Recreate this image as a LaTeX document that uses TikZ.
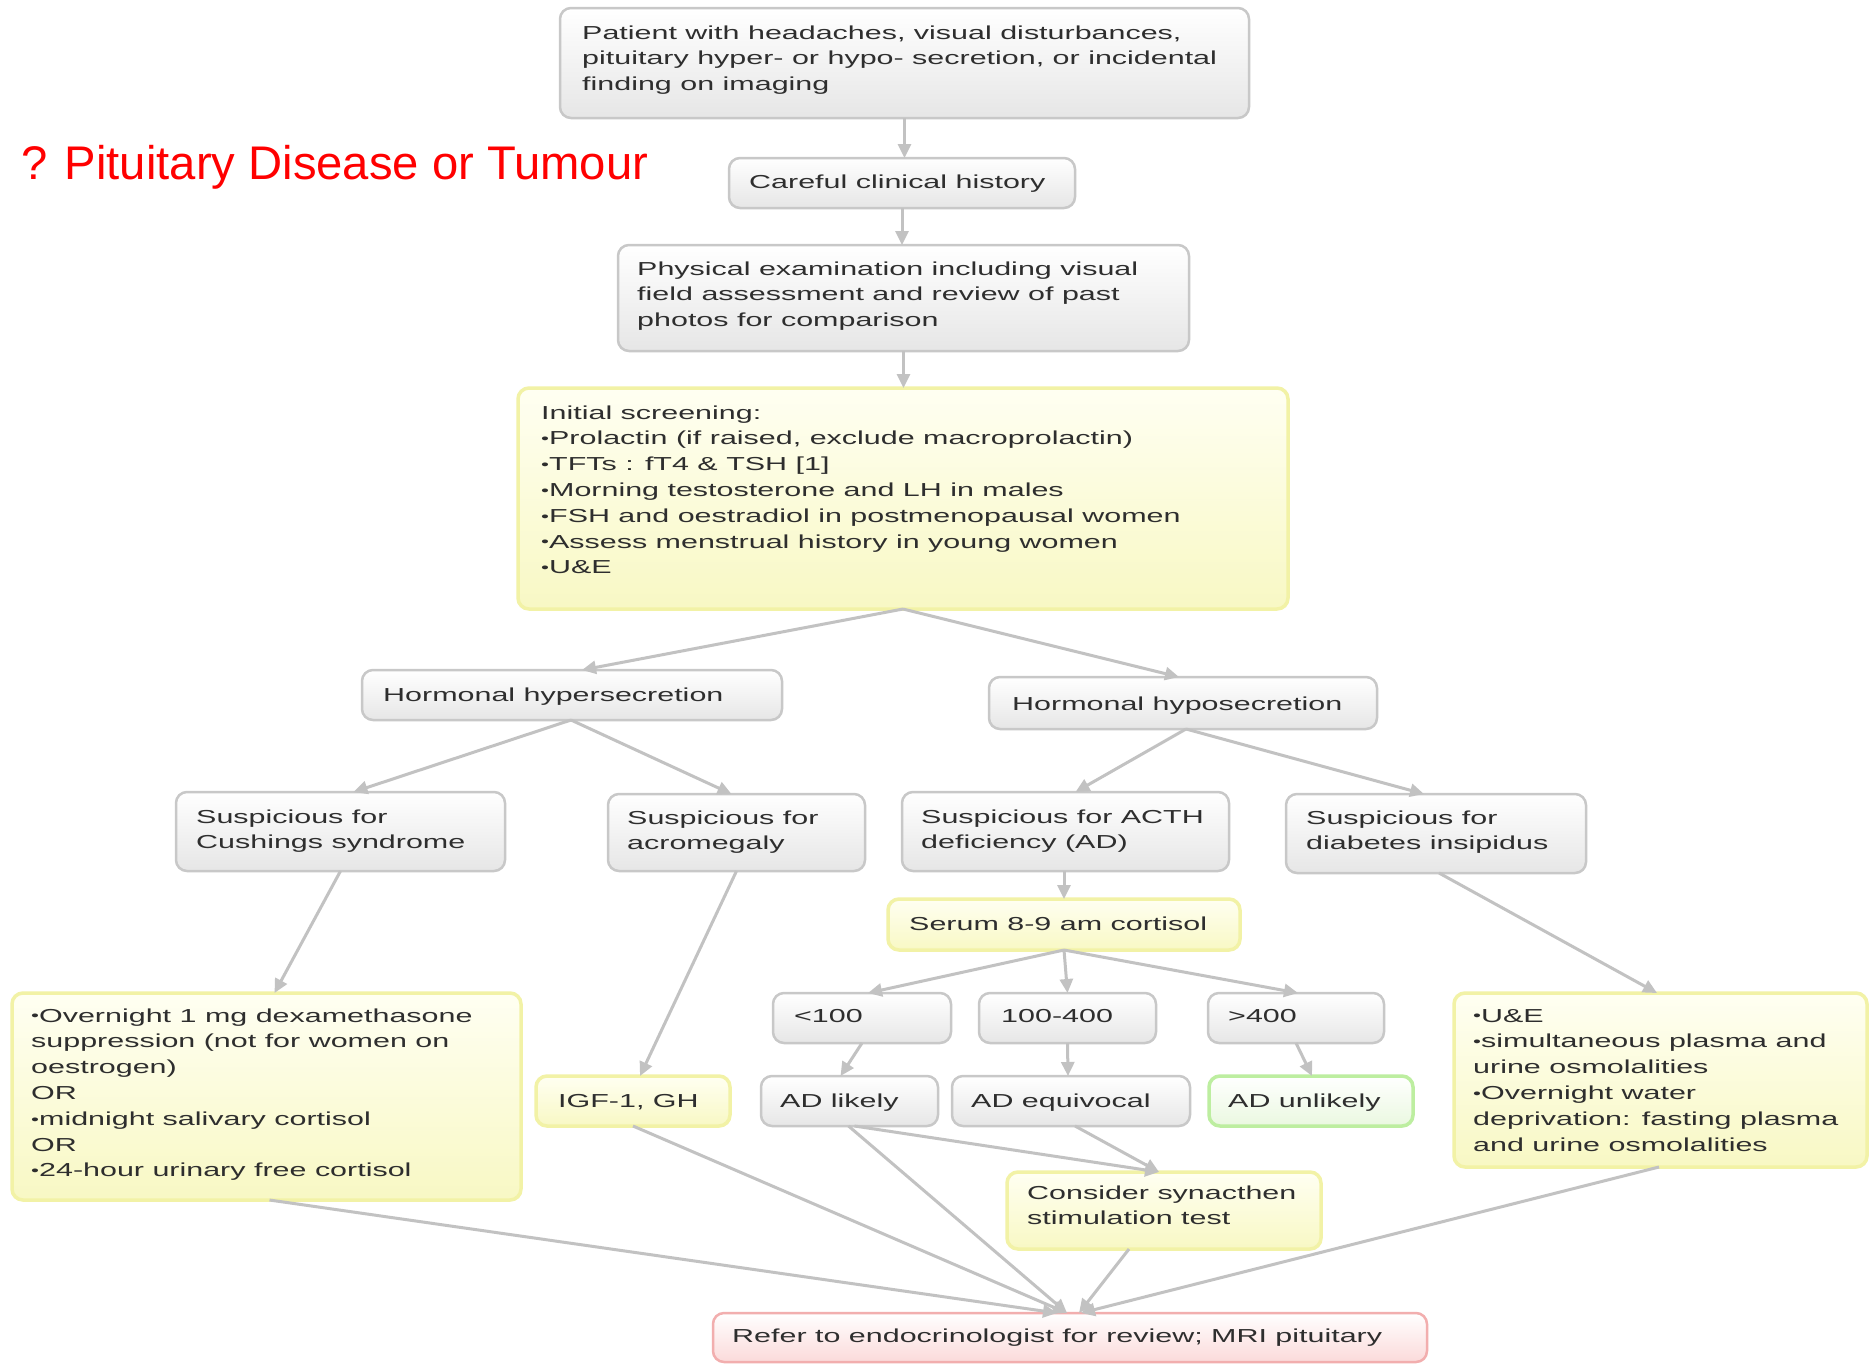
\documentclass[tikz,border=0pt]{standalone}
\usepackage{fontspec}
\setmainfont{Liberation Sans}[FakeStretch=1.62]
\newfontfamily\titlefont{Liberation Sans}
\usetikzlibrary{arrows.meta}
\definecolor{bordgray}{HTML}{C8C8C8}
\definecolor{fillgray}{HTML}{E6E6E6}
\definecolor{bordyel}{HTML}{F2F2A6}
\definecolor{topyel}{HTML}{FFFFF2}
\definecolor{fillyel}{HTML}{F8F8C4}
\definecolor{bordgrn}{HTML}{BDEEA0}
\definecolor{fillgrn}{HTML}{EAF8E0}
\definecolor{bordred}{HTML}{F2AEAE}
\definecolor{fillred}{HTML}{FBDADA}
\definecolor{txtcol}{HTML}{2E2E2E}
\definecolor{arrcol}{HTML}{C2C2C2}
\definecolor{titlered}{HTML}{FF0000}
\newcommand\ml[1]{\begin{tabular}[t]{@{}l@{}}#1\end{tabular}}
\newcommand\bul{\raisebox{1.2pt}{\fontsize{14}{14}\selectfont •}}
\newcommand\bx[6]{\node[#2, minimum width={#5-#3}, minimum height={#6-#4}] (#1) at ({(#3+#5)/2},{(#4+#6)/2}) {};}
\begin{document}
\begin{tikzpicture}[x=1pt,y=-1pt,
  boxbase/.style={rectangle, rounded corners=11pt, line width=2.5pt, inner sep=0pt, outer sep=0pt},
  gbox/.style={boxbase, draw=bordgray, top color=white, bottom color=fillgray},
  ybox/.style={boxbase, draw=bordyel, line width=3.5pt, top color=topyel, bottom color=fillyel},
  grbox/.style={boxbase, draw=bordgrn, line width=3.5pt, top color=white, bottom color=fillgrn},
  rbox/.style={boxbase, draw=bordred, top color=white, bottom color=fillred},
  txt/.style={inner sep=0pt, anchor=base west, text=txtcol, font=\fontsize{18.8}{25.8}\selectfont},
  arr/.style={draw=arrcol, line width=3pt, -{Triangle[length=14pt,width=13pt]}}
]
\fill[white] (0,0) rectangle (1873,1363);
\useasboundingbox (0,0) rectangle (1873,1363);

% title
\node[inner sep=0pt, anchor=base west, text=titlered, font=\titlefont\fontsize{47.2}{56}\selectfont] (title) at (21,179) {? Pituitary Disease or Tumour};

% boxes
\bx{pat}{gbox}{560}{8}{1249}{118}
\bx{care}{gbox}{729}{158}{1075}{208}
\bx{phys}{gbox}{618}{245}{1189}{351}
\bx{init}{ybox}{518}{388}{1288}{609}
\bx{hyper}{gbox}{362}{670}{782}{720}
\bx{hypo}{gbox}{989}{677}{1377}{729}
\bx{cush}{gbox}{176}{792}{505}{871}
\bx{acro}{gbox}{608}{794}{865}{871}
\bx{acth}{gbox}{902}{792}{1229}{871}
\bx{di}{gbox}{1286}{794}{1586}{873}
\bx{serum}{ybox}{888}{899}{1240}{950}
\bx{lt}{gbox}{773}{993}{951}{1043}
\bx{mid}{gbox}{979}{993}{1156}{1043}
\bx{gt}{gbox}{1208}{993}{1384}{1043}
\bx{adl}{gbox}{761}{1076}{938}{1126}
\bx{ade}{gbox}{952}{1076}{1190}{1126}
\bx{adu}{grbox}{1209}{1076}{1413}{1126}
\bx{igf}{ybox}{536}{1076}{730}{1126}
\bx{cusht}{ybox}{12}{993}{521}{1200}
\bx{dit}{ybox}{1454}{993}{1867}{1167}
\bx{syn}{ybox}{1007}{1172}{1321}{1249}
\bx{ref}{rbox}{713}{1313}{1427}{1362}

% texts
\node[txt] (patt) at (582,39) {\ml{Patient with headaches, visual disturbances,\\pituitary hyper- or hypo- secretion, or incidental\\finding on imaging}};
\node[txt] (caret) at (749,188) {Careful clinical history};
\node[txt] (physt) at (637,275) {\ml{Physical examination including visual\\field assessment and review of past\\photos for comparison}};
\node[txt] (initt) at (541,419) {\ml{Initial screening:\\\bul Prolactin (if raised, exclude macroprolactin)\\\bul TFTs : fT4 \& TSH [1]\\\bul Morning testosterone and LH in males\\\bul FSH and oestradiol in postmenopausal women\\\bul Assess menstrual history in young women\\\bul U\&E}};
\node[txt] (hypert) at (383,701) {Hormonal hypersecretion};
\node[txt] (hypot) at (1012,710) {Hormonal hyposecretion};
\node[txt] (cusht1) at (196,823) {\ml{Suspicious for\\Cushings syndrome}};
\node[txt] (acrot) at (627,824) {\ml{Suspicious for\\acromegaly}};
\node[txt] (actht) at (921,823) {\ml{Suspicious for ACTH\\deficiency (AD)}};
\node[txt] (dit1) at (1306,824) {\ml{Suspicious for\\diabetes insipidus}};
\node[txt] (serumt) at (909,930) {Serum 8-9 am cortisol};
\node[txt] (ltt) at (794,1022) {<100};
\node[txt] (midt) at (1001,1022) {100-400};
\node[txt] (gtt) at (1228,1022) {>400};
\node[txt] (adlt) at (780,1107) {AD likely};
\node[txt] (adet) at (971,1107) {AD equivocal};
\node[txt] (adut) at (1228,1107) {AD unlikely};
\node[txt] (igft) at (558,1107) {IGF-1, GH};
\node[txt] (cushtt) at (31,1022) {\ml{\bul Overnight 1 mg dexamethasone\\suppression (not for women on\\oestrogen)\\OR\\\bul midnight salivary cortisol\\OR\\\bul 24-hour urinary free cortisol}};
\node[txt] (ditt) at (1473,1022) {\ml{\bul U\&E\\\bul simultaneous plasma and\\urine osmolalities\\\bul Overnight water\\deprivation: fasting plasma\\and urine osmolalities}};
\node[txt] (synt) at (1027,1199) {\ml{Consider synacthen\\stimulation test}};
\node[txt] (reft) at (732,1342) {Refer to endocrinologist for review; MRI pituitary};

% connectors
\draw[arr] (pat.south) -- (pat.south |- care.north);
\draw[arr] (care.south) -- (care.south |- phys.north);
\draw[arr] (phys.south) -- (phys.south |- init.north);
\draw[arr] (init.south) -- ([xshift=10pt]hyper.north);
\draw[arr] (init.south) -- ([xshift=-4pt]hypo.north);
\draw[arr] ([xshift=-1pt]hyper.south) -- ([xshift=13pt]cush.north);
\draw[arr] ([xshift=-1pt]hyper.south) -- ([xshift=-5pt]acro.north);
\draw[arr] ([xshift=3pt]hypo.south) -- ([xshift=10pt]acth.north);
\draw[arr] ([xshift=3pt]hypo.south) -- ([xshift=-12pt]di.north);
\draw[arr] (cush.south) -- ([xshift=8pt]cusht.north);
\draw[arr] (acro.south) -- ([xshift=7pt]igf.north);
\draw[arr] ([xshift=-1.5pt]acth.south) -- (serum.north);
\draw[arr] ([xshift=3pt]di.south) -- ([xshift=-3.5pt]dit.north);
\draw[arr] (serum.south) -- ([xshift=6pt]lt.north);
\draw[arr] (serum.south) -- (mid.north);
\draw[arr] (serum.south) -- ([xshift=2pt]gt.north);
\draw[arr] (lt.south) -- ([xshift=-9pt]adl.north);
\draw[arr] (mid.south) -- ([xshift=-3pt]ade.north);
\draw[arr] (gt.south) -- ([xshift=1pt]adu.north);
\draw[arr] ([xshift=5pt]adl.south) -- ([xshift=-5pt]syn.north);
\draw[arr] ([xshift=4pt]ade.south) -- ([xshift=-5pt]syn.north);
\draw[arr] ([xshift=-1pt]adl.south) -- ([xshift=-3pt]ref.north);
\draw[arr] ([xshift=-35pt]syn.south) -- ([xshift=9pt]ref.north);
\draw[arr] (igf.south) -- ([xshift=-3pt]ref.north);
\draw[arr] ([xshift=3pt]cusht.south) -- ([xshift=-13pt]ref.north);
\draw[arr] ([xshift=-1.5pt]dit.south) -- ([xshift=11pt]ref.north);
\end{tikzpicture}
\end{document}
